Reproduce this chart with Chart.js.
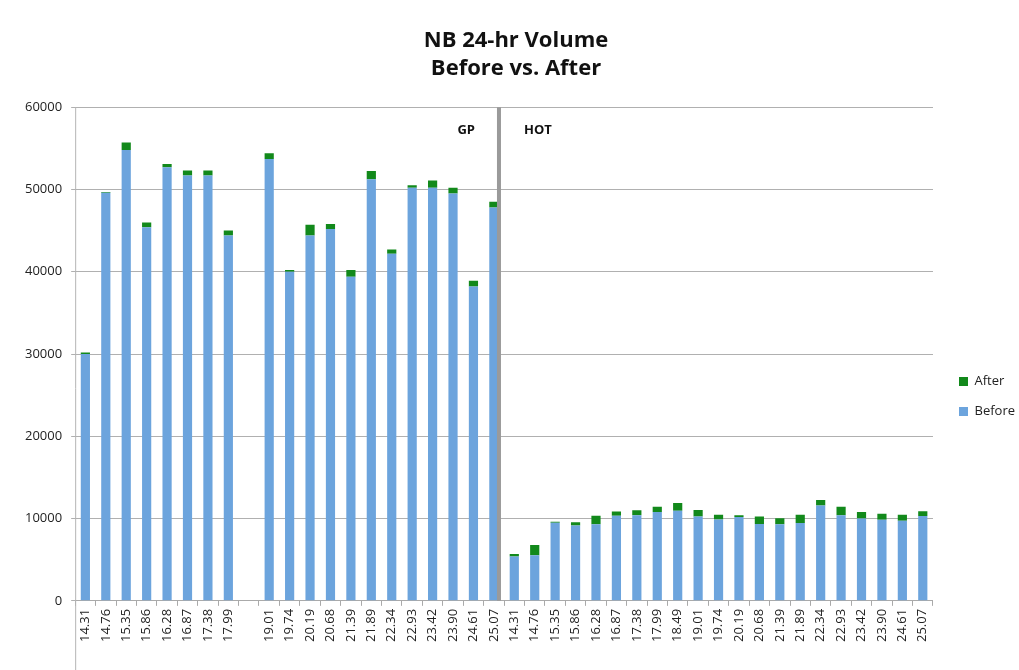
<!DOCTYPE html>
<html>
<head>
<meta charset="utf-8">
<title>NB 24-hr Volume</title>
<script src="https://cdn.jsdelivr.net/npm/chart.js@4/dist/chart.umd.min.js"></script>
<style>
  html, body { margin: 0; padding: 0; background: #fff; }
  #wrap { width: 1019px; height: 670px; }
</style>
</head>
<body>
<div id="wrap"><canvas id="volChart"></canvas></div>
<script>
// mile posts, GP lanes then HOT lanes (blank slot = no station)
const milePosts = [
  "14.31", "14.76", "15.35", "15.86", "16.28", "16.87", "17.38", "17.99", "",
  "19.01", "19.74", "20.19", "20.68", "21.39", "21.89", "22.34", "22.93", "23.42", "23.90", "24.61", "25.07",
  "14.31", "14.76", "15.35", "15.86", "16.28", "16.87", "17.38", "17.99", "18.49",
  "19.01", "19.74", "20.19", "20.68", "21.39", "21.89", "22.34", "22.93", "23.42", "23.90", "24.61", "25.07"
];
const beforeVol = [
  30000, 49600, 54800, 45400, 52700, 51700, 51700, 44400, null,
  53700, 40000, 44400, 45200, 39400, 51250, 42200, 50200, 50200, 49500, 38200, 47800,
  5400, 5550, 9500, 9150, 9300, 10350, 10400, 10800, 10950,
  10250, 9900, 10200, 9350, 9300, 9450, 11600, 10400, 10000, 9850, 9750, 10300
];
const afterVol = [
  200, 100, 900, 600, 400, 600, 600, 600, null,
  700, 200, 1300, 600, 800, 1000, 500, 300, 900, 700, 700, 700,
  300, 1250, 100, 400, 1050, 500, 600, 650, 950,
  800, 550, 200, 900, 750, 1000, 650, 1050, 800, 750, 700, 600
];
const lastGpIndex = 20;

const BLUE = "#6ca4dd";
const GREEN = "#12891b";

// gray divider between GP and HOT, plus the section names
const sectionPlugin = {
  id: "sections",
  afterLayout(chart) {
    // nudge the legend down/right to where the original sits
    const lg = chart.legend;
    lg.left += 9; lg.right += 9;
    lg.top += 74; lg.bottom += 74;
  },
  beforeDatasetsDraw(chart) {
    // y axis line runs down past the labels
    const { ctx, chartArea } = chart;
    ctx.save();
    ctx.strokeStyle = "#b5b5b5";
    ctx.lineWidth = 1;
    ctx.beginPath();
    ctx.moveTo(chartArea.left + 0.5, chartArea.top);
    ctx.lineTo(chartArea.left + 0.5, chart.height);
    ctx.stroke();
    ctx.restore();
  },
  afterDatasetsDraw(chart) {
    const { ctx, chartArea, scales } = chart;
    const x0 = scales.x.getPixelForValue(lastGpIndex);
    const x1 = scales.x.getPixelForValue(lastGpIndex + 1);
    const xd = x0 + (x1 - x0) * 0.25;
    ctx.save();
    ctx.strokeStyle = "#9a9a9a";
    ctx.lineWidth = 4;
    ctx.beginPath();
    ctx.moveTo(xd, chartArea.top);
    ctx.lineTo(xd, chartArea.bottom);
    ctx.stroke();
    ctx.fillStyle = "#111";
    ctx.font = "bold 13px 'Open Sans'";
    ctx.textBaseline = "middle";
    ctx.textAlign = "right";
    ctx.fillText("GP", xd - 24, chartArea.top + 23);
    ctx.textAlign = "left";
    ctx.fillText("HOT", xd + 25, chartArea.top + 23);
    ctx.restore();
  }
};

new Chart(document.getElementById("volChart"), {
  type: "bar",
  data: {
    labels: milePosts,
    datasets: [
      { label: "Before", data: beforeVol, backgroundColor: BLUE },
      { label: "After", data: afterVol, backgroundColor: GREEN }
    ]
  },
  options: {
    responsive: true,
    maintainAspectRatio: false,
    animation: false,
    categoryPercentage: 1,
    barPercentage: 0.45,
    layout: { padding: { left: 16, right: 3, bottom: 25, top: 0 } },
    plugins: {
      title: {
        display: true,
        text: ["NB 24-hr Volume", "Before vs. After"],
        color: "#111",
        font: { family: "'Open Sans'", size: 22, weight: "bold", lineHeight: 1.3 },
        padding: { top: 26, bottom: 24 }
      },
      legend: {
        position: "right",
        reverse: true,
        labels: {
          boxWidth: 9,
          boxHeight: 9,
          padding: 17,
          color: "#222",
          font: { family: "'Open Sans'", size: 13 }
        }
      },
      tooltip: { enabled: false }
    },
    scales: {
      x: {
        stacked: true,
        grid: { offset: true, drawOnChartArea: false, tickLength: 5, color: "#aaa" },
        border: { color: "#aaa" },
        ticks: {
          autoSkip: false,
          maxRotation: 90,
          minRotation: 90,
          color: "#222",
          font: { family: "'Open Sans'", size: 13 }
        }
      },
      y: {
        stacked: true,
        min: 0,
        max: 60000,
        grid: { color: "#b0b0b0", tickLength: 4 },
        border: { display: false },
        ticks: {
          stepSize: 10000,
          color: "#222",
          padding: 9,
          font: { family: "'Open Sans'", size: 13 },
          callback: (v) => String(v)
        }
      }
    }
  },
  plugins: [sectionPlugin]
});
</script>
</body>
</html>
